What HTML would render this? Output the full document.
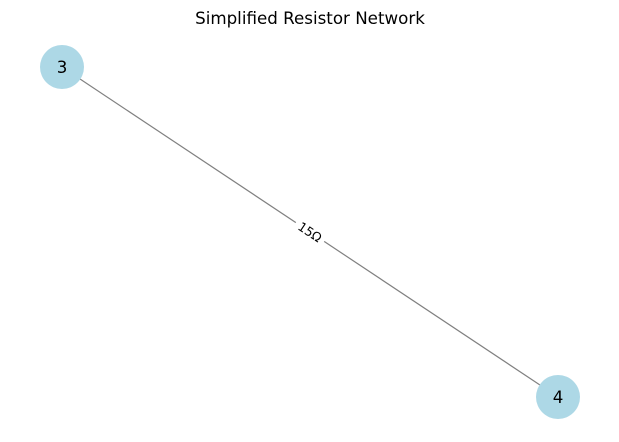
<!DOCTYPE html>
<html><head><style>body{margin:0;background:#fff}</style></head><body>
<svg width="619" height="442" xmlns="http://www.w3.org/2000/svg" style="display:block">
<rect width="619" height="442" fill="#fff"/>
<text x="310" y="24" text-anchor="middle" font-family="DejaVu Sans, sans-serif" font-size="16.7">Simplified Resistor Network</text>
<line x1="62" y1="67" x2="558" y2="397" stroke="#808080" stroke-width="1.2"/>
<g transform="translate(310,232) rotate(33.6)">
<rect x="-17" y="-8" width="34" height="16" fill="#fff"/>
<text x="0" y="4.5" text-anchor="middle" font-family="DejaVu Sans, sans-serif" font-size="12.5">15Ω</text>
</g>
<circle cx="62" cy="67" r="22" fill="#add8e6"/>
<circle cx="558" cy="397" r="22" fill="#add8e6"/>
<text x="62" y="73" text-anchor="middle" font-family="DejaVu Sans, sans-serif" font-size="16.7">3</text>
<text x="558" y="403" text-anchor="middle" font-family="DejaVu Sans, sans-serif" font-size="16.7">4</text>
</svg>
</body></html>
